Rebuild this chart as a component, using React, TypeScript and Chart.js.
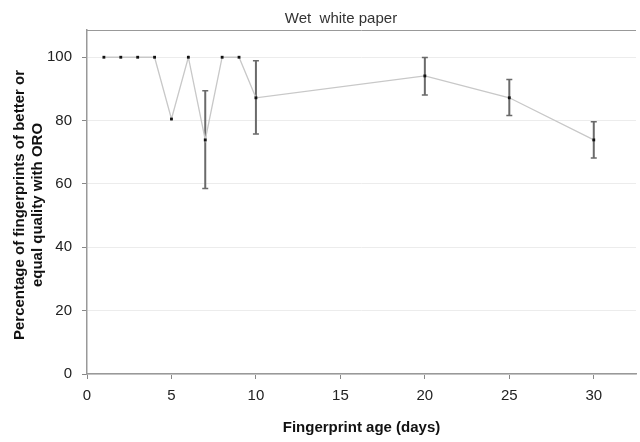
import React, { useEffect, useRef } from "react";
import { Chart, registerables } from "chart.js";

Chart.register(...registerables);

const chartTitle = "Wet  white paper";
const xTitle = "Fingerprint age (days)";
const yTitleLines = ["Percentage of fingerprints of better or", "equal quality with ORO"];

const days = [1, 2, 3, 4, 5, 6, 7, 8, 9, 10, 20, 25, 30];
const percent = [100, 100, 100, 100, 80.5, 100, 73.9, 100, 100, 87.2, 94.1, 87.2, 73.9];
const errLow: (number | null)[] = [null, null, null, null, null, null, 58.6, null, null, 75.8, 88.1, 81.6, 68.2];
const errHigh: (number | null)[] = [null, null, null, null, null, null, 89.4, null, null, 98.9, 99.9, 93.0, 79.6];

const xTicks = [0, 5, 10, 15, 20, 25, 30];
const yTicks = [0, 20, 40, 60, 80, 100];

const FONT = '"Liberation Sans", Arial, sans-serif';

export default function App() {
  const ref = useRef<HTMLCanvasElement | null>(null);

  useEffect(() => {
    if (!ref.current) return;

    const errorBars = {
      id: "errorBars",
      beforeDatasetsDraw(chart: any) {
        const ctx = chart.ctx;
        const xs = chart.scales.x;
        const ys = chart.scales.y;
        ctx.save();
        ctx.strokeStyle = "#6a6a6a";
        ctx.lineWidth = 2;
        days.forEach((d, i) => {
          const lo = errLow[i];
          const hi = errHigh[i];
          if (lo == null || hi == null) return;
          const px = xs.getPixelForValue(d);
          const pl = ys.getPixelForValue(lo);
          const ph = ys.getPixelForValue(hi);
          ctx.beginPath();
          ctx.moveTo(px, pl);
          ctx.lineTo(px, ph);
          ctx.stroke();
          ctx.lineWidth = 1.5;
          ctx.beginPath();
          ctx.moveTo(px - 3, pl);
          ctx.lineTo(px + 3, pl);
          ctx.moveTo(px - 3, ph);
          ctx.lineTo(px + 3, ph);
          ctx.stroke();
          ctx.lineWidth = 2;
        });
        ctx.restore();
      },
    };

    const texts = {
      id: "texts",
      afterDraw(chart: any) {
        const ctx = chart.ctx;
        const a = chart.chartArea;
        ctx.save();
        // top frame line
        ctx.strokeStyle = "#999";
        ctx.lineWidth = 1;
        ctx.beginPath();
        ctx.moveTo(a.left, a.top + 0.5);
        ctx.lineTo(a.right, a.top + 0.5);
        ctx.stroke();

        ctx.fillStyle = "#333";
        ctx.textAlign = "center";
        ctx.textBaseline = "middle";
        ctx.font = `15px ${FONT}`;
        ctx.fillText(chartTitle, 341, 19);

        ctx.fillStyle = "#111";
        ctx.font = `bold 15px ${FONT}`;
        ctx.fillText(xTitle, (a.left + a.right) / 2, 428);

        ctx.translate(0, 0);
        const cy = (a.top + a.bottom) / 2 + 3;
        yTitleLines.forEach((line, i) => {
          ctx.save();
          ctx.translate(20 + i * 18, cy);
          ctx.rotate(-Math.PI / 2);
          ctx.fillText(line, 0, 0);
          ctx.restore();
        });
        ctx.restore();
      },
    };

    const chart = new Chart(ref.current, {
      type: "scatter",
      data: {
        datasets: [
          {
            data: days.map((d, i) => ({ x: d, y: percent[i] })),
            showLine: true,
            borderColor: "#c8c8c8",
            borderWidth: 1.3,
            pointStyle: "rect",
            pointRadius: 2,
            pointBackgroundColor: "#111",
            pointBorderColor: "#111",
            pointBorderWidth: 0,
          },
        ],
      },
      options: {
        responsive: false,
        animation: false,
        layout: { padding: { top: 30, right: 0, left: 0, bottom: 0 } },
        plugins: { legend: { display: false }, tooltip: { enabled: false }, title: { display: false } },
        scales: {
          x: {
            type: "linear",
            min: 0,
            max: 32.5,
            afterBuildTicks: (s: any) => {
              s.ticks = xTicks.map((v) => ({ value: v }));
            },
            afterFit: (s: any) => {
              s.height = 68;
            },
            grid: { drawOnChartArea: false, tickLength: 5, tickColor: "#888", tickWidth: 1 },
            border: { color: "#999", width: 1.5 },
            ticks: { font: { family: FONT, size: 15 }, color: "#222", padding: 8, maxRotation: 0 },
          },
          y: {
            type: "linear",
            min: 0,
            max: 108.6,
            afterBuildTicks: (s: any) => {
              s.ticks = yTicks.map((v) => ({ value: v }));
            },
            afterFit: (s: any) => {
              s.width = 87;
            },
            grid: { color: "#ececec", lineWidth: 1, tickLength: 5, tickColor: "#888" },
            border: { color: "#999", width: 1.5 },
            ticks: { font: { family: FONT, size: 15 }, color: "#222", padding: 10 },
          },
        },
      },
      plugins: [errorBars, texts],
    } as any);

    return () => chart.destroy();
  }, []);

  return (
    <div style={{ position: "absolute", left: 0, top: 0, width: 640, height: 442, background: "#fff" }}>
      <canvas ref={ref} width={640} height={442} style={{ display: "block" }} />
    </div>
  );
}
